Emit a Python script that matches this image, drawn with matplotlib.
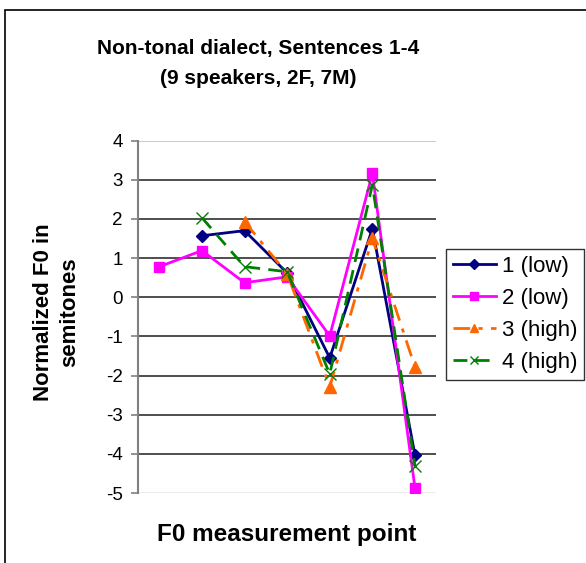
import matplotlib
matplotlib.use("Agg")
import matplotlib.pyplot as plt
from matplotlib.patches import Rectangle

plt.rcParams["font.family"] = ["Liberation Sans", "DejaVu Sans"]
plt.rcParams["axes.unicode_minus"] = False

# measurement points 1..7, None where a series has no value
points = [1, 2, 3, 4, 5, 6, 7]
s1_low = [None, 1.57, 1.70, 0.62, -1.55, 1.75, -4.03]
s2_low = [0.78, 1.19, 0.37, 0.52, -0.99, 3.16, -4.87]
s3_high = [None, None, 1.93, 0.60, -2.29, 1.50, -1.78]
s4_high = [None, 2.03, 0.78, 0.65, -1.96, 2.87, -4.31]
labels = ["1 (low)", "2 (low)", "3 (high)", "4 (high)"]
yticks = [4, 3, 2, 1, 0, -1, -2, -3, -4, -5]


def clean(xs, ys):
    pairs = [(x, y) for x, y in zip(xs, ys) if y is not None]
    return [p[0] for p in pairs], [p[1] for p in pairs]


fig = plt.figure(figsize=(5.86, 5.63), dpi=100)
ax = fig.add_axes([0.2355, 0.1243, 0.509, 0.626])

# outer chart frame (only left and top edges are visible)
fig.patches.append(Rectangle((5 / 586, -0.1), 1.2, 1 - 10 / 563 + 0.1,
                             transform=fig.transFigure, fill=False,
                             edgecolor="black", linewidth=1.2))

# gridlines
for v in yticks:
    if v == 4:
        c = "#c0c0c0"
    elif v == -5:
        c = "#e8e8e8"
    else:
        c = "#303030"
    ax.axhline(v, color=c, linewidth=1.2, zorder=1)

styles = [
    dict(color="#000080", marker="D", markersize=6, linestyle="-"),
    dict(color="#ff00ff", marker="s", markersize=7, linestyle="-"),
    dict(color="#ff6600", marker="^", markersize=8, linestyle=(0, (6, 3, 1.5, 3))),
    dict(color="#008000", marker="x", markersize=8, linestyle=(0, (5, 3)),
         markeredgewidth=1.0),
]
series = [s1_low, s2_low, s3_high, s4_high]
for ys, st, lab in zip(series, styles, labels):
    x, y = clean(points, ys)
    ax.plot(x, y, linewidth=2.0, label=lab, zorder=3, **st)

ax.set_xlim(0.5, 7.5)
ax.set_ylim(-5, 4)
ax.set_yticks(yticks)
ax.set_xticks([])
ax.tick_params(axis="y", direction="out", length=5, width=1.2, color="#808080",
               labelsize=13.5, pad=6)
for s in ["top", "right", "bottom"]:
    ax.spines[s].set_visible(False)
ax.spines["left"].set_color("#808080")
ax.spines["left"].set_linewidth(1.5)

fig.text(0.44, 0.887, "Non-tonal dialect, Sentences 1-4\n(9 speakers, 2F, 7M)",
         ha="center", va="center", fontsize=15, fontweight="bold",
         linespacing=1.75)
fig.text(0.0965, 0.446, "Normalized F0 in\nsemitones", rotation=90,
         ha="center", va="center", fontsize=16, fontweight="bold",
         linespacing=1.38)
fig.text(0.489, 1 - 535 / 563, "F0 measurement point", ha="center", va="center",
         fontsize=17.5, fontweight="bold")

leg = fig.legend(loc="upper left", bbox_to_anchor=(446 / 586, 1 - 249 / 563),
                 fontsize=16, frameon=True, fancybox=False, handlelength=1.95,
                 handletextpad=0.27, labelspacing=0.5, borderpad=0.3,
                 borderaxespad=0, markerscale=0.8)
leg.get_frame().set_edgecolor("black")
leg.get_frame().set_linewidth(1.0)

fig.savefig("out.png", dpi=100)
